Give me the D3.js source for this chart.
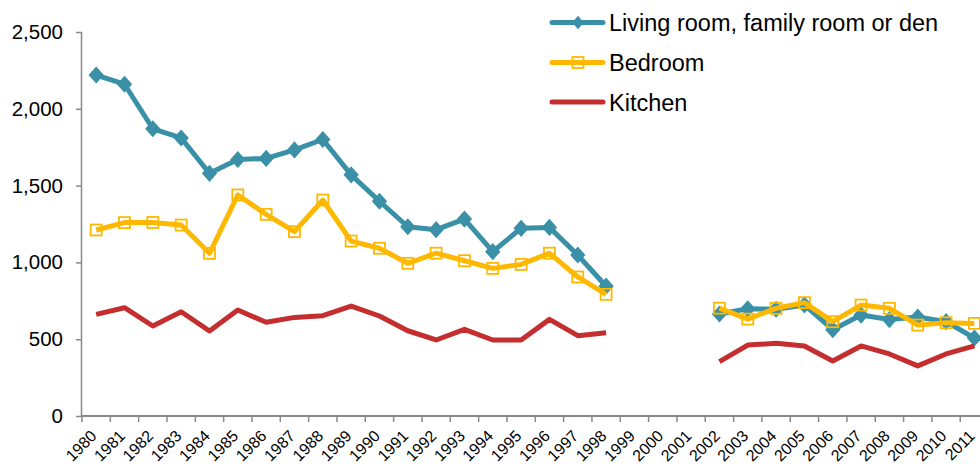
<!DOCTYPE html>
<html>
<head>
<meta charset="utf-8">
<script src="https://cdn.jsdelivr.net/npm/d3@7"></script>
<style>
  body { margin: 0; background: #fff; }
  svg { display: block; font-family: "Liberation Sans", Arial, sans-serif; }
</style>
</head>
<body>
<svg id="chart" width="980" height="466"></svg>
<script>
// --- dati ---
const years = d3.range(1980, 2012).map(String);

const living = [2220, 2160, 1870, 1810, 1580, 1670, 1677, 1732, 1800, 1570,
  1398, 1232, 1213, 1282, 1070, 1222, 1228, 1048, 845, null,
  null, null, 664, 698, 695, 723, 562, 657, 628, 644,
  614, 508];

const bedroom = [1211, 1259, 1260, 1243, 1059, 1439, 1313, 1200, 1406, 1139,
  1092, 994, 1060, 1011, 961, 987, 1060, 905, 792, null,
  null, null, 702, 631, 701, 738, 614, 722, 701, 592,
  607, 603];

const kitchen = [662, 705, 586, 679, 553, 690, 610, 642, 653, 716,
  651, 555, 495, 564, 495, 495, 629, 523, 542, null,
  null, null, 354, 462, 473, 456, 358, 456, 404, 326,
  404, 456];

const yTicks = [0, 500, 1000, 1500, 2000, 2500];

const series = [
  { name: "Living room, family room or den", values: living,  color: "#3A91A7", marker: "diamond" },
  { name: "Bedroom",                         values: bedroom, color: "#FFB800", marker: "square" },
  { name: "Kitchen",                         values: kitchen, color: "#C52E2E", marker: null }
];

const svg = d3.select("#chart");

const mLeft = 82, mTop = 32, mBottom = 416;
const step = 28.33;
const mRight = mLeft + step * years.length;

const x = d3.scaleBand().domain(years).range([mLeft, mRight]);
const y = d3.scaleLinear().domain([0, 2500]).range([mBottom, mTop]);

/* ── ASSI ─────────────────────────────── */

const yAxis = svg.append("g")
  .attr("transform", `translate(${mLeft},0)`)
  .call(d3.axisLeft(y).tickValues(yTicks).tickSize(6).tickPadding(13)
    .tickFormat(d3.format(",")));
yAxis.selectAll("path, line").attr("stroke", "#898989").attr("stroke-width", 1.5);
yAxis.select(".domain").attr("d", `M-0.5,${mTop}V${mBottom}`);
yAxis.selectAll("text").attr("font-size", 20.5).attr("fill", "#000")
  .attr("font-family", "Liberation Sans, Arial, sans-serif");

const xAxis = svg.append("g").attr("transform", `translate(0,${mBottom})`);
xAxis.append("line")
  .attr("x1", mLeft).attr("x2", 980)
  .attr("stroke", "#898989").attr("stroke-width", 2);
xAxis.selectAll(".tick")
  .data(d3.range(years.length + 1))
  .join("line")
  .attr("x1", i => mLeft + i * x.step())
  .attr("x2", i => mLeft + i * x.step())
  .attr("y1", 0).attr("y2", 6)
  .attr("stroke", "#898989").attr("stroke-width", 1.5);
xAxis.selectAll(".lbl")
  .data(years)
  .join("text")
  .attr("font-size", 16)
  .attr("text-anchor", "end")
  .attr("transform", d => `translate(${x(d) + x.bandwidth() / 2 + 1.5},${21}) rotate(-45)`)
  .text(d => d);

/* ── LINEE ────────────────────────────── */

const cx = i => x(years[i]) + x.bandwidth() / 2;

const line = d3.line()
  .defined(d => d != null)
  .x((d, i) => cx(i))
  .y(d => y(d));

const diamond = d3.symbol().type(d3.symbolDiamond2).size(150);

const plot = svg.append("g");

series.forEach(s => {
  plot.append("path")
    .datum(s.values)
    .attr("fill", "none")
    .attr("stroke", s.color)
    .attr("stroke-width", 5)
    .attr("stroke-linejoin", "round")
    .attr("d", line);

  const pts = s.values.map((v, i) => ({ v, i })).filter(d => d.v != null);

  if (s.marker === "diamond") {
    plot.selectAll(null).data(pts).join("path")
      .attr("transform", d => `translate(${cx(d.i)},${y(d.v)}) scale(1,1.12)`)
      .attr("d", diamond)
      .attr("fill", s.color);
  } else if (s.marker === "square") {
    plot.selectAll(null).data(pts).join("rect")
      .attr("x", d => cx(d.i) - 5.5)
      .attr("y", d => y(d.v) - 5.5)
      .attr("width", 11).attr("height", 11)
      .attr("fill", "none")
      .attr("stroke", s.color)
      .attr("stroke-width", 1.8);
  }
});

/* ── LEGENDA ──────────────────────────── */

const legend = svg.append("g").attr("transform", "translate(550,0)");
const rowY = [22.5, 62.5, 102];

series.forEach((s, i) => {
  const g = legend.append("g").attr("transform", `translate(0,${rowY[i]})`);
  g.append("line")
    .attr("x1", 2).attr("x2", 53)
    .attr("stroke", s.color).attr("stroke-width", 5)
    .attr("stroke-linecap", "round");
  if (s.marker === "diamond") {
    g.append("path").attr("transform", "translate(28,0) scale(1,1.15)")
      .attr("d", d3.symbol().type(d3.symbolDiamond2).size(85)).attr("fill", s.color);
  } else if (s.marker === "square") {
    g.append("rect").attr("x", 22.5).attr("y", -5.5).attr("width", 11).attr("height", 11)
      .attr("fill", "none").attr("stroke", s.color).attr("stroke-width", 1.8);
  }
  g.append("text")
    .attr("x", 59).attr("y", 8.5)
    .attr("font-size", 23.5)
    .attr("fill", "#000")
    .text(s.name);
});
</script>
</body>
</html>
